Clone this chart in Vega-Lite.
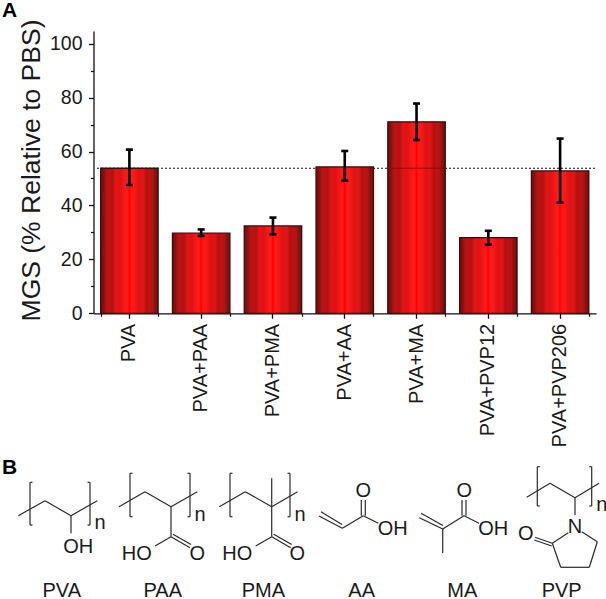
{
"$schema":"https://vega.github.io/schema/vega-lite/v6.json",
"width":606,"height":599,"padding":0,"autosize":{"type":"none"},"background":"white",
"config":{"view":{"stroke":null},"font":"Liberation Sans"},
"datasets":{
"bars":[
{"sample":"PVA","mgs":53.8,"lo":47.6,"hi":60.7},
{"sample":"PVA+PAA","mgs":29.7,"lo":28.7,"hi":31.1},
{"sample":"PVA+PMA","mgs":32.4,"lo":29.3,"hi":35.5},
{"sample":"PVA+AA","mgs":54.3,"lo":49.2,"hi":60.2},
{"sample":"PVA+MA","mgs":71,"lo":64.3,"hi":77.8},
{"sample":"PVA+PVP12","mgs":28.1,"lo":25.5,"hi":30.6},
{"sample":"PVA+PVP206","mgs":52.8,"lo":41,"hi":64.8}],
"ref":[{"from":0,"to":1,"level":53.8}],
"bonds":[
{"a":18.3,"b":515.7,"c":45,"d":500.7},{"a":45,"b":500.7,"c":71,"d":515.7},{"a":71,"b":515.7,"c":97.3,"d":500.7},{"a":71,"b":515.7,"c":71,"d":533.3},
{"a":30,"b":482.3,"c":30,"d":525},{"a":30,"b":482.3,"c":32.5,"d":482.3},{"a":30,"b":525,"c":32.5,"d":525},{"a":90,"b":482.3,"c":90,"d":525},{"a":90,"b":482.3,"c":87.5,"d":482.3},{"a":90,"b":525,"c":87.5,"d":525},
{"a":119,"b":506.7,"c":145,"d":491.7},{"a":145,"b":491.7,"c":171,"d":506.7},{"a":171,"b":506.7,"c":197.3,"d":491.7},{"a":171,"b":506.7,"c":171,"d":536.7},{"a":171,"b":536.7,"c":190,"d":547.7},{"a":173,"b":534.2,"c":191,"d":544.6},{"a":171,"b":536.7,"c":155,"d":546},
{"a":130,"b":473.3,"c":130,"d":516.7},{"a":130,"b":473.3,"c":132.5,"d":473.3},{"a":130,"b":516.7,"c":132.5,"d":516.7},{"a":190,"b":473.3,"c":190,"d":516.7},{"a":190,"b":473.3,"c":187.5,"d":473.3},{"a":190,"b":516.7,"c":187.5,"d":516.7},
{"a":219.3,"b":506.7,"c":245.3,"d":491.7},{"a":245.3,"b":491.7,"c":271.7,"d":506.7},{"a":271.7,"b":506.7,"c":297.6,"d":491.7},{"a":271.7,"b":478.3,"c":271.7,"d":536.7},{"a":271.7,"b":536.7,"c":290.7,"d":547.7},{"a":273.7,"b":534.2,"c":291.7,"d":544.6},{"a":271.7,"b":536.7,"c":255.7,"d":546},
{"a":230,"b":473.3,"c":230,"d":516.7},{"a":230,"b":473.3,"c":232.5,"d":473.3},{"a":230,"b":516.7,"c":232.5,"d":516.7},{"a":290,"b":473.3,"c":290,"d":516.7},{"a":290,"b":473.3,"c":287.5,"d":473.3},{"a":290,"b":516.7,"c":287.5,"d":516.7},
{"a":319,"b":516,"c":342.3,"d":528.3},{"a":321,"b":511.7,"c":342,"d":524.5},{"a":342.3,"b":528.3,"c":363.3,"d":515.7},{"a":363.3,"b":515.7,"c":378.3,"d":523.3},{"a":361.3,"b":515.7,"c":361.3,"d":500},{"a":365.3,"b":515.7,"c":365.3,"d":500},
{"a":419.3,"b":517.7,"c":443.3,"d":529.3},{"a":421,"b":513.3,"c":443,"d":525.5},{"a":442.7,"b":529,"c":442.7,"d":553},{"a":442.7,"b":529,"c":464,"d":515.7},{"a":464,"b":515.7,"c":479,"d":523.3},{"a":462,"b":515.7,"c":462,"d":500},{"a":466,"b":515.7,"c":466,"d":500},
{"a":526.7,"b":497.3,"c":550,"d":483.3},{"a":550,"b":483.3,"c":575,"d":497.7},{"a":575,"b":497.7,"c":599,"d":483.3},{"a":575,"b":497.7,"c":575,"d":515},
{"a":537.3,"b":466.7,"c":537.3,"d":506},{"a":537.3,"b":466.7,"c":539.8,"d":466.7},{"a":537.3,"b":506,"c":539.8,"d":506},{"a":591.7,"b":466.7,"c":591.7,"d":506},{"a":591.7,"b":466.7,"c":589.2,"d":466.7},{"a":591.7,"b":506,"c":589.2,"d":506},
{"a":581.7,"b":531.7,"c":597.3,"d":541.7},{"a":597.3,"b":541.7,"c":589.3,"d":567.3},{"a":589.3,"b":567.3,"c":560.7,"d":567.3},{"a":560.7,"b":567.3,"c":552.3,"d":543.3},{"a":552.3,"b":543.3,"c":568.3,"d":532.7},{"a":552.3,"b":543.3,"c":535,"d":537.3},{"a":551.7,"b":546,"c":534.3,"d":540}],
"labels":[
{"a":100,"b":523,"t":"n"},{"a":78.3,"b":547.3,"t":"OH"},{"a":61.7,"b":590.5,"t":"PVA"},
{"a":200,"b":515,"t":"n"},{"a":136.7,"b":554,"t":"HO"},{"a":197.3,"b":554,"t":"O"},{"a":162.7,"b":590.5,"t":"PAA"},
{"a":300,"b":515,"t":"n"},{"a":237.3,"b":554,"t":"HO"},{"a":297.3,"b":554,"t":"O"},{"a":263.3,"b":590.5,"t":"PMA"},
{"a":363.3,"b":490.7,"t":"O"},{"a":392.7,"b":529,"t":"OH"},{"a":361.7,"b":590.5,"t":"AA"},
{"a":464.3,"b":490.7,"t":"O"},{"a":493.3,"b":529,"t":"OH"},{"a":462.3,"b":590.5,"t":"MA"},
{"a":601.7,"b":505,"t":"n"},{"a":575,"b":527.3,"t":"N"},{"a":525.7,"b":534,"t":"O"},{"a":561.7,"b":590.5,"t":"PVP"}],
"panels":[{"a":9.5,"b":11,"t":"A"},{"a":9.5,"b":467.5,"t":"B"}],
"overlay":[{"sample":"PVA+MA","from":53.6,"to":54}]
},
"layer":[
{"data":{"name":"ref"},"mark":{"type":"rule","stroke":"#111","strokeWidth":1.1,"strokeDash":[2,2]},
 "encoding":{"x":{"field":"from","type":"quantitative","axis":null,"scale":{"domain":[0,1],"range":[97,597]}},"x2":{"field":"to"},
 "y":{"field":"level","type":"quantitative","axis":null,"scale":{"domain":[0,104.7],"range":[313.3,31],"nice":false}}}},
{"data":{"name":"bars"},"mark":{"type":"bar","stroke":"#3a0c0c","strokeWidth":1.3,"fill":{"gradient":"linear","x1":0,"y1":0,"x2":1,"y2":0,"stops":[
 {"offset":0,"color":"#701010"},{"offset":0.05,"color":"#8c0e0e"},{"offset":0.1,"color":"#a81818"},{"offset":0.15,"color":"#c41010"},{"offset":0.2,"color":"#b41010"},{"offset":0.26,"color":"#dc1818"},{"offset":0.34,"color":"#e41010"},{"offset":0.4,"color":"#f21818"},{"offset":0.46,"color":"#ff1c1c"},{"offset":0.5,"color":"#ff0000"},{"offset":0.54,"color":"#ff1c1c"},{"offset":0.6,"color":"#f21818"},{"offset":0.66,"color":"#e41010"},{"offset":0.74,"color":"#dc1818"},{"offset":0.8,"color":"#b41010"},{"offset":0.85,"color":"#c41010"},{"offset":0.9,"color":"#a81818"},{"offset":0.95,"color":"#8c0e0e"},{"offset":1,"color":"#701010"}]}},
 "encoding":{"x":{"field":"sample","type":"nominal","sort":null,"scale":{"domain":["PVA","PVA+PAA","PVA+PMA","PVA+AA","PVA+MA","PVA+PVP12","PVA+PVP206"],"range":[93.5,596],"paddingInner":0.2,"paddingOuter":0.1},
  "axis":{"orient":"bottom","offset":-285.7,"title":null,"labelAngle":-90,"labelAlign":"right","labelBaseline":"middle","labelFontSize":20,"labelColor":"#1a1a1a","labelFont":"Liberation Sans","labelPadding":5,"tickSize":5,"tickWidth":1.3,"domainWidth":1.3,"tickColor":"#111","domainColor":"#111","labelOverlap":false,"labelLimit":300,"grid":false}},
 "y":{"field":"mgs","type":"quantitative","scale":{"domain":[0,104.7],"range":[313.3,31],"nice":false},
  "axis":{"orient":"left","offset":-93.5,"title":"MGS (% Relative to PBS)","titleFontSize":26.5,"titleFontWeight":"normal","titleColor":"#1a1a1a","titleFont":"Liberation Sans","titleX":-54,"titleY":170,"titleAngle":-90,"titleAlign":"center","titleBaseline":"alphabetic","values":[0,20,40,60,80,100],"labelFontSize":19.5,"labelColor":"#1a1a1a","labelFont":"Liberation Sans","labelPadding":6.5,"tickSize":5,"tickWidth":1.3,"domainWidth":1.3,"tickColor":"#111","domainColor":"#111","grid":false}}}},
{"data":{"name":"overlay"},"mark":{"type":"bar","fill":"#8a0606","stroke":null,"opacity":0.8},
 "encoding":{"x":{"field":"sample","type":"nominal","axis":null,"scale":{"domain":["PVA","PVA+PAA","PVA+PMA","PVA+AA","PVA+MA","PVA+PVP12","PVA+PVP206"],"range":[93.5,596],"paddingInner":0.2,"paddingOuter":0.1}},
 "y":{"field":"from","type":"quantitative","axis":null,"scale":{"domain":[0,104.7],"range":[313.3,31],"nice":false}},"y2":{"field":"to"}}},
{"data":{"name":"bars"},"mark":{"type":"rule","stroke":"#000","strokeWidth":2.6},
 "encoding":{"x":{"field":"sample","type":"nominal","sort":null,"axis":null,"scale":{"domain":["PVA","PVA+PAA","PVA+PMA","PVA+AA","PVA+MA","PVA+PVP12","PVA+PVP206"],"range":[93.5,596],"paddingInner":0.2,"paddingOuter":0.1}},
 "y":{"field":"lo","type":"quantitative","axis":null,"scale":{"domain":[0,104.7],"range":[313.3,31],"nice":false}},"y2":{"field":"hi"}}},
{"data":{"name":"bars"},"mark":{"type":"tick","color":"#000","size":7,"thickness":2.6,"opacity":1},
 "encoding":{"x":{"field":"sample","type":"nominal","sort":null,"scale":{"domain":["PVA","PVA+PAA","PVA+PMA","PVA+AA","PVA+MA","PVA+PVP12","PVA+PVP206"],"range":[93.5,596],"paddingInner":0.2,"paddingOuter":0.1},
  "axis":{"orient":"bottom","offset":-285.7,"title":null,"labels":false,"domain":false,"tickBand":"extent","tickSize":3,"tickWidth":1.2,"tickColor":"#111","grid":false}},
 "y":{"field":"lo","type":"quantitative","scale":{"domain":[0,104.7],"range":[313.3,31],"nice":false},
  "axis":{"orient":"left","offset":-93.5,"title":null,"labels":false,"domain":false,"values":[10,30,50,70,90],"tickSize":3,"tickWidth":1.2,"tickColor":"#111","grid":false}}}},
{"data":{"name":"bars"},"mark":{"type":"tick","color":"#000","size":7,"thickness":2.6,"opacity":1},
 "encoding":{"x":{"field":"sample","type":"nominal","sort":null,"axis":null,"scale":{"domain":["PVA","PVA+PAA","PVA+PMA","PVA+AA","PVA+MA","PVA+PVP12","PVA+PVP206"],"range":[93.5,596],"paddingInner":0.2,"paddingOuter":0.1}},
 "y":{"field":"hi","type":"quantitative","axis":null,"scale":{"domain":[0,104.7],"range":[313.3,31],"nice":false}}}},
{"data":{"name":"bonds"},"mark":{"type":"rule","stroke":"#2a2a2a","strokeWidth":1.2},
 "encoding":{"x":{"field":"a","type":"quantitative","axis":null,"scale":{"domain":[0,606],"range":[0,606]}},"x2":{"field":"c"},
 "y":{"field":"b","type":"quantitative","axis":null,"scale":{"domain":[0,599],"range":[0,599],"nice":false,"zero":false}},"y2":{"field":"d"}}},
{"data":{"name":"labels"},"mark":{"type":"text","fontSize":20,"font":"Liberation Sans","fill":"#1a1a1a","align":"center","baseline":"middle"},
 "encoding":{"x":{"field":"a","type":"quantitative","axis":null,"scale":{"domain":[0,606],"range":[0,606]}},
 "y":{"field":"b","type":"quantitative","axis":null,"scale":{"domain":[0,599],"range":[0,599],"nice":false,"zero":false}},"text":{"field":"t"}}},
{"data":{"name":"panels"},"mark":{"type":"text","fontSize":21,"fontWeight":"bold","font":"Liberation Sans","fill":"#000","align":"center","baseline":"middle"},
 "encoding":{"x":{"field":"a","type":"quantitative","axis":null,"scale":{"domain":[0,606],"range":[0,606]}},
 "y":{"field":"b","type":"quantitative","axis":null,"scale":{"domain":[0,599],"range":[0,599],"nice":false,"zero":false}},"text":{"field":"t"}}}
],
"resolve":{"scale":{"x":"independent","y":"independent"},"axis":{"x":"independent","y":"independent"}}
}
